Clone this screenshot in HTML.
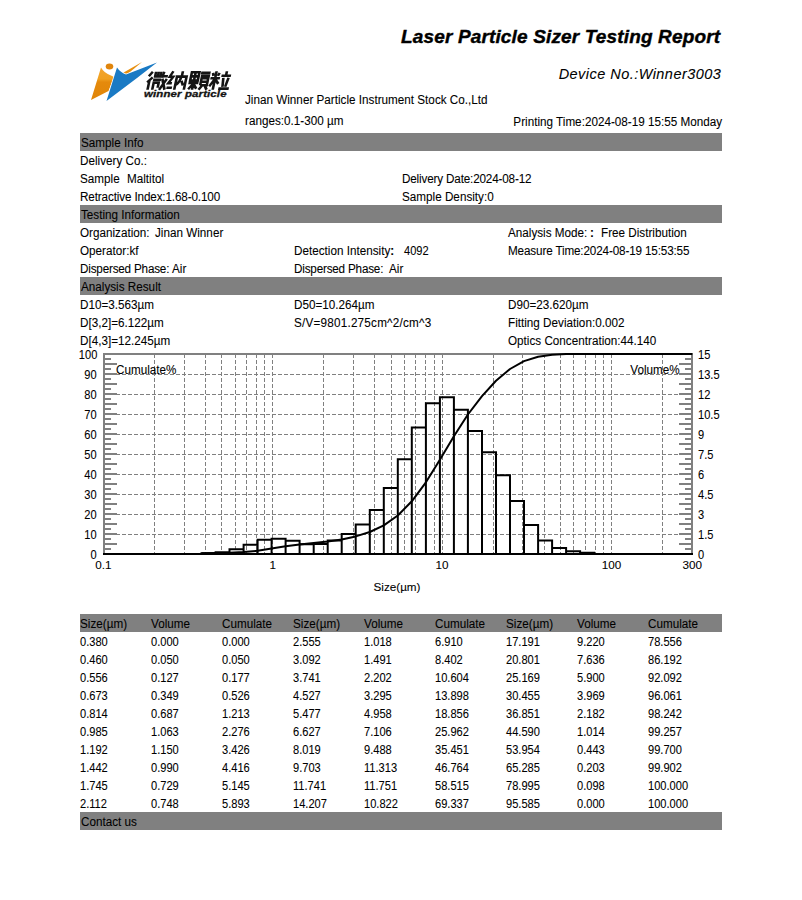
<!DOCTYPE html>
<html><head><meta charset="utf-8"><style>
html,body{margin:0;padding:0;background:#fff;}
body{width:802px;height:900px;position:relative;overflow:hidden;font-family:"Liberation Sans",sans-serif;color:#000;}
.t{position:absolute;white-space:nowrap;line-height:20px;-webkit-text-stroke:0.08px #000;}
.bar{position:absolute;left:80px;width:642px;height:18px;background:#808080;}
.abs{position:absolute;left:0;top:0;}
</style></head><body>
<svg class="abs" width="802" height="900" viewBox="0 0 802 900">
<defs><linearGradient id="og" x1="0" y1="0" x2="0" y2="1"><stop offset="0" stop-color="#f2a530"/><stop offset="0.35" stop-color="#f0a020"/><stop offset="0.45" stop-color="#e58a0c"/><stop offset="1" stop-color="#e08508"/></linearGradient></defs><path d="M91,100 L101,67.5 Q104,73 111,75.5 L114,77 L108.5,91 Z" fill="url(#og)"/>
<ellipse cx="109.5" cy="66.5" rx="3.8" ry="3" fill="#e0850c"/>
<path d="M121,74 L142,62 L127,74.5 Z" fill="#e8900f"/>
<path d="M106.5,101 L117,67.5 Q120,72 126,74.5 L157,62.5 L137,78 Z" fill="#1a7ac4" stroke="#fff" stroke-width="1.4" paint-order="stroke" stroke-linejoin="round"/>
<g fill="none" stroke="#141414" stroke-width="2.6" stroke-linecap="butt">
<g transform="translate(145,89.8) skewX(-12)">
 <path d="M4,-18 L1,-13.5 M5,-12.5 L0.5,-7.5 M2.5,-10 V0"/>
 <path d="M7.3,-18 V-12.5 M10,-18 V-12.5 M12.7,-18 V-12.5 M6.2,-13.3 H13.8 M6,-10 H14 M7.2,0 V-7.2 H12.2 V-2"/>
 <path d="M15.5,-18 L14.5,-12 M14.5,-13.5 H20 M15,-11 L19.5,0 M19.5,-11 L14,0"/>
</g>
<g transform="translate(166,89.8) skewX(-12)">
 <path d="M3.5,-18.5 L1,-13 L4.5,-13 L0.8,-6.5 L4.5,-6.5 M0,-2 H5.5"/>
 <path d="M8.2,0 V-13.2 H17.8 V0 M13,-18.5 V-13 M12.5,-12.5 Q12,-7.5 9,-5 M13.5,-9 L16,-4.5"/>
</g>
<g transform="translate(187,89.8) skewX(-12)">
 <path d="M1.2,-17.5 H8.8 V-9.3 H1.2 Z M5,-17.5 V0 M1.2,-13.4 H8.8 M0,-6.8 H10 M4.5,-5.5 L1,-0.5 M5.5,-5.5 L9,-1"/>
 <path d="M10.5,-17 H20 M12.2,-4.5 V-14.2 H18.8 V-4.5 H12.2 M12.2,-11.5 H18.8 M12.2,-8 H18.8 M14,-4 L11.5,0 M17,-4 L19.5,0"/>
</g>
<g transform="translate(208,89.8) skewX(-12)">
 <path d="M1.5,-17 L2.5,-14 M8,-17 L7,-14 M0,-11.5 H9.5 M4.7,-18.5 V0 M4,-10 L0.5,-3.5 M5.5,-10 L9,-6"/>
 <path d="M15,-18.5 V-14.5 M10.5,-14 H20 M12.8,-12 L13.8,-3 M18,-12 L16.5,-3 M10,-1.2 H20.5"/>
</g>
</g>
</svg>
<svg class="abs" width="802" height="900" viewBox="0 0 802 900"><line x1="104" y1="534.5" x2="691" y2="534.5" stroke="#808080" stroke-width="1" stroke-dasharray="4 2"/><line x1="104" y1="514.5" x2="691" y2="514.5" stroke="#808080" stroke-width="1" stroke-dasharray="4 2"/><line x1="104" y1="494.5" x2="691" y2="494.5" stroke="#808080" stroke-width="1" stroke-dasharray="4 2"/><line x1="104" y1="474.5" x2="691" y2="474.5" stroke="#808080" stroke-width="1" stroke-dasharray="4 2"/><line x1="104" y1="454.5" x2="691" y2="454.5" stroke="#808080" stroke-width="1" stroke-dasharray="4 2"/><line x1="104" y1="434.5" x2="691" y2="434.5" stroke="#808080" stroke-width="1" stroke-dasharray="4 2"/><line x1="104" y1="414.5" x2="691" y2="414.5" stroke="#808080" stroke-width="1" stroke-dasharray="4 2"/><line x1="104" y1="394.5" x2="691" y2="394.5" stroke="#808080" stroke-width="1" stroke-dasharray="4 2"/><line x1="104" y1="374.5" x2="691" y2="374.5" stroke="#808080" stroke-width="1" stroke-dasharray="4 2"/><line x1="154.5" y1="354" x2="154.5" y2="554" stroke="#808080" stroke-width="1" stroke-dasharray="4 2"/><line x1="184.5" y1="354" x2="184.5" y2="554" stroke="#808080" stroke-width="1" stroke-dasharray="4 2"/><line x1="205.5" y1="354" x2="205.5" y2="554" stroke="#808080" stroke-width="1" stroke-dasharray="4 2"/><line x1="221.5" y1="354" x2="221.5" y2="554" stroke="#808080" stroke-width="1" stroke-dasharray="4 2"/><line x1="235.5" y1="354" x2="235.5" y2="554" stroke="#808080" stroke-width="1" stroke-dasharray="4 2"/><line x1="246.5" y1="354" x2="246.5" y2="554" stroke="#808080" stroke-width="1" stroke-dasharray="4 2"/><line x1="256.5" y1="354" x2="256.5" y2="554" stroke="#808080" stroke-width="1" stroke-dasharray="4 2"/><line x1="264.5" y1="354" x2="264.5" y2="554" stroke="#808080" stroke-width="1" stroke-dasharray="4 2"/><line x1="323.5" y1="354" x2="323.5" y2="554" stroke="#808080" stroke-width="1" stroke-dasharray="4 2"/><line x1="353.5" y1="354" x2="353.5" y2="554" stroke="#808080" stroke-width="1" stroke-dasharray="4 2"/><line x1="374.5" y1="354" x2="374.5" y2="554" stroke="#808080" stroke-width="1" stroke-dasharray="4 2"/><line x1="391.5" y1="354" x2="391.5" y2="554" stroke="#808080" stroke-width="1" stroke-dasharray="4 2"/><line x1="404.5" y1="354" x2="404.5" y2="554" stroke="#808080" stroke-width="1" stroke-dasharray="4 2"/><line x1="415.5" y1="354" x2="415.5" y2="554" stroke="#808080" stroke-width="1" stroke-dasharray="4 2"/><line x1="425.5" y1="354" x2="425.5" y2="554" stroke="#808080" stroke-width="1" stroke-dasharray="4 2"/><line x1="434.5" y1="354" x2="434.5" y2="554" stroke="#808080" stroke-width="1" stroke-dasharray="4 2"/><line x1="493.5" y1="354" x2="493.5" y2="554" stroke="#808080" stroke-width="1" stroke-dasharray="4 2"/><line x1="522.5" y1="354" x2="522.5" y2="554" stroke="#808080" stroke-width="1" stroke-dasharray="4 2"/><line x1="544.5" y1="354" x2="544.5" y2="554" stroke="#808080" stroke-width="1" stroke-dasharray="4 2"/><line x1="560.5" y1="354" x2="560.5" y2="554" stroke="#808080" stroke-width="1" stroke-dasharray="4 2"/><line x1="573.5" y1="354" x2="573.5" y2="554" stroke="#808080" stroke-width="1" stroke-dasharray="4 2"/><line x1="585.5" y1="354" x2="585.5" y2="554" stroke="#808080" stroke-width="1" stroke-dasharray="4 2"/><line x1="595.5" y1="354" x2="595.5" y2="554" stroke="#808080" stroke-width="1" stroke-dasharray="4 2"/><line x1="603.5" y1="354" x2="603.5" y2="554" stroke="#808080" stroke-width="1" stroke-dasharray="4 2"/><line x1="662.5" y1="354" x2="662.5" y2="554" stroke="#808080" stroke-width="1" stroke-dasharray="4 2"/><line x1="272.5" y1="354" x2="272.5" y2="554" stroke="#808080" stroke-width="1" stroke-dasharray="4 2"/><line x1="442.5" y1="354" x2="442.5" y2="554" stroke="#808080" stroke-width="1" stroke-dasharray="4 2"/><line x1="611.5" y1="354" x2="611.5" y2="554" stroke="#808080" stroke-width="1" stroke-dasharray="4 2"/><rect x="103" y="353" width="590" height="2" fill="#808080"/><rect x="103" y="353" width="2" height="202" fill="#808080"/><rect x="691" y="353" width="2" height="202" fill="#808080"/><rect x="105" y="548" width="6" height="2" fill="#808080"/><rect x="685" y="548" width="6" height="2" fill="#808080"/><rect x="105" y="543" width="12" height="2" fill="#808080"/><rect x="679" y="543" width="12" height="2" fill="#808080"/><rect x="105" y="538" width="6" height="2" fill="#808080"/><rect x="685" y="538" width="6" height="2" fill="#808080"/><rect x="105" y="533" width="12" height="2" fill="#808080"/><rect x="679" y="533" width="12" height="2" fill="#808080"/><rect x="105" y="528" width="6" height="2" fill="#808080"/><rect x="685" y="528" width="6" height="2" fill="#808080"/><rect x="105" y="523" width="12" height="2" fill="#808080"/><rect x="679" y="523" width="12" height="2" fill="#808080"/><rect x="105" y="518" width="6" height="2" fill="#808080"/><rect x="685" y="518" width="6" height="2" fill="#808080"/><rect x="105" y="513" width="12" height="2" fill="#808080"/><rect x="679" y="513" width="12" height="2" fill="#808080"/><rect x="105" y="508" width="6" height="2" fill="#808080"/><rect x="685" y="508" width="6" height="2" fill="#808080"/><rect x="105" y="503" width="12" height="2" fill="#808080"/><rect x="679" y="503" width="12" height="2" fill="#808080"/><rect x="105" y="498" width="6" height="2" fill="#808080"/><rect x="685" y="498" width="6" height="2" fill="#808080"/><rect x="105" y="493" width="12" height="2" fill="#808080"/><rect x="679" y="493" width="12" height="2" fill="#808080"/><rect x="105" y="488" width="6" height="2" fill="#808080"/><rect x="685" y="488" width="6" height="2" fill="#808080"/><rect x="105" y="483" width="12" height="2" fill="#808080"/><rect x="679" y="483" width="12" height="2" fill="#808080"/><rect x="105" y="478" width="6" height="2" fill="#808080"/><rect x="685" y="478" width="6" height="2" fill="#808080"/><rect x="105" y="473" width="12" height="2" fill="#808080"/><rect x="679" y="473" width="12" height="2" fill="#808080"/><rect x="105" y="468" width="6" height="2" fill="#808080"/><rect x="685" y="468" width="6" height="2" fill="#808080"/><rect x="105" y="463" width="12" height="2" fill="#808080"/><rect x="679" y="463" width="12" height="2" fill="#808080"/><rect x="105" y="458" width="6" height="2" fill="#808080"/><rect x="685" y="458" width="6" height="2" fill="#808080"/><rect x="105" y="453" width="12" height="2" fill="#808080"/><rect x="679" y="453" width="12" height="2" fill="#808080"/><rect x="105" y="448" width="6" height="2" fill="#808080"/><rect x="685" y="448" width="6" height="2" fill="#808080"/><rect x="105" y="443" width="12" height="2" fill="#808080"/><rect x="679" y="443" width="12" height="2" fill="#808080"/><rect x="105" y="438" width="6" height="2" fill="#808080"/><rect x="685" y="438" width="6" height="2" fill="#808080"/><rect x="105" y="433" width="12" height="2" fill="#808080"/><rect x="679" y="433" width="12" height="2" fill="#808080"/><rect x="105" y="428" width="6" height="2" fill="#808080"/><rect x="685" y="428" width="6" height="2" fill="#808080"/><rect x="105" y="423" width="12" height="2" fill="#808080"/><rect x="679" y="423" width="12" height="2" fill="#808080"/><rect x="105" y="418" width="6" height="2" fill="#808080"/><rect x="685" y="418" width="6" height="2" fill="#808080"/><rect x="105" y="413" width="12" height="2" fill="#808080"/><rect x="679" y="413" width="12" height="2" fill="#808080"/><rect x="105" y="408" width="6" height="2" fill="#808080"/><rect x="685" y="408" width="6" height="2" fill="#808080"/><rect x="105" y="403" width="12" height="2" fill="#808080"/><rect x="679" y="403" width="12" height="2" fill="#808080"/><rect x="105" y="398" width="6" height="2" fill="#808080"/><rect x="685" y="398" width="6" height="2" fill="#808080"/><rect x="105" y="393" width="12" height="2" fill="#808080"/><rect x="679" y="393" width="12" height="2" fill="#808080"/><rect x="105" y="388" width="6" height="2" fill="#808080"/><rect x="685" y="388" width="6" height="2" fill="#808080"/><rect x="105" y="383" width="12" height="2" fill="#808080"/><rect x="679" y="383" width="12" height="2" fill="#808080"/><rect x="105" y="378" width="6" height="2" fill="#808080"/><rect x="685" y="378" width="6" height="2" fill="#808080"/><rect x="105" y="373" width="12" height="2" fill="#808080"/><rect x="679" y="373" width="12" height="2" fill="#808080"/><rect x="105" y="368" width="6" height="2" fill="#808080"/><rect x="685" y="368" width="6" height="2" fill="#808080"/><rect x="105" y="363" width="12" height="2" fill="#808080"/><rect x="679" y="363" width="12" height="2" fill="#808080"/><rect x="105" y="358" width="6" height="2" fill="#808080"/><rect x="685" y="358" width="6" height="2" fill="#808080"/><path d="M201.5 554V553.3H215.6V554 M215.6 554V552.3H229.5V554 M229.5 554V549.3H243.6V554 M243.6 554V544.8H257.6V554 M257.6 554V539.8H271.6V554 M271.6 554V538.7H285.6V554 M285.6 554V540.8H299.6V554 M299.6 554V544.3H313.7V554 M313.7 554V544.0H327.7V554 M327.7 554V540.4H341.7V554 M341.7 554V534.1H355.7V554 M355.7 554V524.6H369.8V554 M369.8 554V510.1H383.8V554 M383.8 554V487.9H397.8V554 M397.8 554V459.3H411.8V554 M411.8 554V427.5H425.9V554 M425.9 554V403.2H439.9V554 M439.9 554V397.3H453.9V554 M453.9 554V409.7H467.9V554 M467.9 554V431.1H482.0V554 M482.0 554V452.2H496.0V554 M496.0 554V475.3H510.0V554 M510.0 554V501.1H524.0V554 M524.0 554V524.9H538.1V554 M538.1 554V540.5H552.1V554 M552.1 554V548.1H566.1V554 M566.1 554V551.3H580.1V554 M580.1 554V552.7H594.2V554" fill="none" stroke="#000" stroke-width="2"/><polyline points="201.5,553.2 215.6,553.1 229.5,552.8 243.6,552.1 257.6,550.8 271.6,548.6 285.6,546.3 299.6,544.4 313.7,542.9 327.7,541.4 341.7,539.4 355.7,536.4 369.8,532.0 383.8,525.4 397.8,515.5 411.8,501.3 425.9,482.3 439.9,459.7 453.9,436.2 467.9,414.5 482.0,396.1 496.0,380.8 510.0,369.0 524.0,361.1 538.1,356.7 552.1,354.7 566.1,354.0 580.1,354.0 594.2,354.0 608.2,354.0 692.3,354.0" fill="none" stroke="#000" stroke-width="2" stroke-linejoin="round"/><rect x="103" y="553" width="590" height="2" fill="#000"/></svg>
<div class="t" style="left:401px;top:26.92px;font-size:19px;font-weight:bold;font-style:italic;letter-spacing:0.15px;-webkit-text-stroke:0.4px #000">Laser Particle Sizer Testing Report</div><div class="t" style="right:80.70000000000005px;top:63.68px;font-size:14.5px;text-align:right;font-style:italic;letter-spacing:0.46px">Device No.:Winner3003</div><div class="t" style="left:245px;top:89.54px;font-size:12.0px;;transform:scaleX(0.975);transform-origin:left center">Jinan Winner Particle Instrument Stock Co.,Ltd</div><div class="t" style="left:245px;top:111.44px;font-size:12.0px;;transform:scaleX(0.975);transform-origin:left center">ranges:0.1-300 &micro;m</div><div class="t" style="right:80px;top:111.64px;font-size:12.0px;text-align:right;;transform:scaleX(0.975);transform-origin:right center">Printing Time:2024-08-19 15:55 Monday</div><div class="bar" style="top:133px"></div><div class="t" style="left:80.5px;top:132.84px;font-size:12.0px;;transform:scaleX(0.975);transform-origin:left center">Sample Info</div><div class="bar" style="top:205px"></div><div class="t" style="left:80.5px;top:204.84px;font-size:12.0px;;transform:scaleX(0.975);transform-origin:left center">Testing Information</div><div class="bar" style="top:277px"></div><div class="t" style="left:80.5px;top:276.84px;font-size:12.0px;;transform:scaleX(0.975);transform-origin:left center">Analysis Result</div><div class="bar" style="top:812px"></div><div class="t" style="left:80.5px;top:811.84px;font-size:12.0px;;transform:scaleX(0.975);transform-origin:left center">Contact us</div><div class="bar" style="top:614px"></div><div class="t" style="left:80px;top:150.84px;font-size:12.0px;;transform:scaleX(0.975);transform-origin:left center">Delivery Co.:</div><div class="t" style="left:80px;top:168.84px;font-size:12.0px;;transform:scaleX(0.975);transform-origin:left center">Sample</div><div class="t" style="left:127.3px;top:168.84px;font-size:12.0px;;transform:scaleX(0.975);transform-origin:left center">Maltitol</div><div class="t" style="left:401.5px;top:168.84px;font-size:12.0px;;transform:scaleX(0.975);transform-origin:left center;letter-spacing:-0.17px">Delivery Date:2024-08-12</div><div class="t" style="left:80px;top:186.84px;font-size:12.0px;;transform:scaleX(0.975);transform-origin:left center;letter-spacing:-0.14px">Retractive Index:1.68-0.100</div><div class="t" style="left:401.5px;top:186.84px;font-size:12.0px;;transform:scaleX(0.975);transform-origin:left center">Sample Density:0</div><div class="t" style="left:80px;top:222.84px;font-size:12.0px;;transform:scaleX(0.975);transform-origin:left center">Organization:</div><div class="t" style="left:155.2px;top:222.84px;font-size:12.0px;;transform:scaleX(0.975);transform-origin:left center">Jinan Winner</div><div class="t" style="left:508px;top:222.84px;font-size:12.0px;;transform:scaleX(0.975);transform-origin:left center">Analysis Mode:</div><div class="t" style="left:589.8px;top:222.84px;font-size:12.0px;;transform:scaleX(0.975);transform-origin:left center"><b>:</b></div><div class="t" style="left:600.5px;top:222.84px;font-size:12.0px;;transform:scaleX(0.975);transform-origin:left center">Free Distribution</div><div class="t" style="left:80px;top:240.84px;font-size:12.0px;;transform:scaleX(0.975);transform-origin:left center">Operator:kf</div><div class="t" style="left:294px;top:240.84px;font-size:12.0px;;transform:scaleX(0.975);transform-origin:left center">Detection Intensity<b>:</b></div><div class="t" style="left:404.2px;top:240.77px;font-size:12.2px;;transform:scaleX(0.91);transform-origin:left center">4092</div><div class="t" style="left:508px;top:240.84px;font-size:12.0px;;transform:scaleX(0.975);transform-origin:left center;letter-spacing:-0.15px">Measure Time:2024-08-19 15:53:55</div><div class="t" style="left:80px;top:258.84px;font-size:12.0px;;transform:scaleX(0.975);transform-origin:left center;letter-spacing:-0.2px">Dispersed Phase:</div><div class="t" style="left:172.2px;top:258.84px;font-size:12.0px;;transform:scaleX(0.975);transform-origin:left center">Air</div><div class="t" style="left:294px;top:258.84px;font-size:12.0px;;transform:scaleX(0.975);transform-origin:left center;letter-spacing:-0.2px">Dispersed Phase:</div><div class="t" style="left:388.6px;top:258.84px;font-size:12.0px;;transform:scaleX(0.975);transform-origin:left center">Air</div><div class="t" style="left:80px;top:294.84px;font-size:12.0px;;transform:scaleX(0.975);transform-origin:left center">D10=3.563&micro;m</div><div class="t" style="left:294px;top:294.84px;font-size:12.0px;;transform:scaleX(0.975);transform-origin:left center">D50=10.264&micro;m</div><div class="t" style="left:508px;top:294.84px;font-size:12.0px;;transform:scaleX(0.975);transform-origin:left center">D90=23.620&micro;m</div><div class="t" style="left:80px;top:312.84px;font-size:12.0px;;transform:scaleX(0.975);transform-origin:left center">D[3,2]=6.122&micro;m</div><div class="t" style="left:294px;top:312.84px;font-size:12.0px;;transform:scaleX(0.975);transform-origin:left center;letter-spacing:0.22px">S/V=9801.275cm^2/cm^3</div><div class="t" style="left:508px;top:312.84px;font-size:12.0px;;transform:scaleX(0.975);transform-origin:left center">Fitting Deviation:0.002</div><div class="t" style="left:80px;top:330.84px;font-size:12.0px;;transform:scaleX(0.975);transform-origin:left center">D[4,3]=12.245&micro;m</div><div class="t" style="left:508px;top:330.84px;font-size:12.0px;;transform:scaleX(0.975);transform-origin:left center">Optics Concentration:44.140</div><div class="t" style="left:80px;top:613.84px;font-size:12.0px;;transform:scaleX(0.975);transform-origin:left center">Size(&micro;m)</div><div class="t" style="left:151px;top:613.84px;font-size:12.0px;;transform:scaleX(0.975);transform-origin:left center">Volume</div><div class="t" style="left:222px;top:613.84px;font-size:12.0px;;transform:scaleX(0.975);transform-origin:left center">Cumulate</div><div class="t" style="left:293px;top:613.84px;font-size:12.0px;;transform:scaleX(0.975);transform-origin:left center">Size(&micro;m)</div><div class="t" style="left:364px;top:613.84px;font-size:12.0px;;transform:scaleX(0.975);transform-origin:left center">Volume</div><div class="t" style="left:435px;top:613.84px;font-size:12.0px;;transform:scaleX(0.975);transform-origin:left center">Cumulate</div><div class="t" style="left:506px;top:613.84px;font-size:12.0px;;transform:scaleX(0.975);transform-origin:left center">Size(&micro;m)</div><div class="t" style="left:577px;top:613.84px;font-size:12.0px;;transform:scaleX(0.975);transform-origin:left center">Volume</div><div class="t" style="left:648px;top:613.84px;font-size:12.0px;;transform:scaleX(0.975);transform-origin:left center">Cumulate</div><div class="t" style="left:80px;top:631.77px;font-size:12.2px;;transform:scaleX(0.91);transform-origin:left center">0.380</div><div class="t" style="left:151px;top:631.77px;font-size:12.2px;;transform:scaleX(0.91);transform-origin:left center">0.000</div><div class="t" style="left:222px;top:631.77px;font-size:12.2px;;transform:scaleX(0.91);transform-origin:left center">0.000</div><div class="t" style="left:293px;top:631.77px;font-size:12.2px;;transform:scaleX(0.91);transform-origin:left center">2.555</div><div class="t" style="left:364px;top:631.77px;font-size:12.2px;;transform:scaleX(0.91);transform-origin:left center">1.018</div><div class="t" style="left:435px;top:631.77px;font-size:12.2px;;transform:scaleX(0.91);transform-origin:left center">6.910</div><div class="t" style="left:506px;top:631.77px;font-size:12.2px;;transform:scaleX(0.91);transform-origin:left center">17.191</div><div class="t" style="left:577px;top:631.77px;font-size:12.2px;;transform:scaleX(0.91);transform-origin:left center">9.220</div><div class="t" style="left:648px;top:631.77px;font-size:12.2px;;transform:scaleX(0.91);transform-origin:left center">78.556</div><div class="t" style="left:80px;top:649.77px;font-size:12.2px;;transform:scaleX(0.91);transform-origin:left center">0.460</div><div class="t" style="left:151px;top:649.77px;font-size:12.2px;;transform:scaleX(0.91);transform-origin:left center">0.050</div><div class="t" style="left:222px;top:649.77px;font-size:12.2px;;transform:scaleX(0.91);transform-origin:left center">0.050</div><div class="t" style="left:293px;top:649.77px;font-size:12.2px;;transform:scaleX(0.91);transform-origin:left center">3.092</div><div class="t" style="left:364px;top:649.77px;font-size:12.2px;;transform:scaleX(0.91);transform-origin:left center">1.491</div><div class="t" style="left:435px;top:649.77px;font-size:12.2px;;transform:scaleX(0.91);transform-origin:left center">8.402</div><div class="t" style="left:506px;top:649.77px;font-size:12.2px;;transform:scaleX(0.91);transform-origin:left center">20.801</div><div class="t" style="left:577px;top:649.77px;font-size:12.2px;;transform:scaleX(0.91);transform-origin:left center">7.636</div><div class="t" style="left:648px;top:649.77px;font-size:12.2px;;transform:scaleX(0.91);transform-origin:left center">86.192</div><div class="t" style="left:80px;top:667.77px;font-size:12.2px;;transform:scaleX(0.91);transform-origin:left center">0.556</div><div class="t" style="left:151px;top:667.77px;font-size:12.2px;;transform:scaleX(0.91);transform-origin:left center">0.127</div><div class="t" style="left:222px;top:667.77px;font-size:12.2px;;transform:scaleX(0.91);transform-origin:left center">0.177</div><div class="t" style="left:293px;top:667.77px;font-size:12.2px;;transform:scaleX(0.91);transform-origin:left center">3.741</div><div class="t" style="left:364px;top:667.77px;font-size:12.2px;;transform:scaleX(0.91);transform-origin:left center">2.202</div><div class="t" style="left:435px;top:667.77px;font-size:12.2px;;transform:scaleX(0.91);transform-origin:left center">10.604</div><div class="t" style="left:506px;top:667.77px;font-size:12.2px;;transform:scaleX(0.91);transform-origin:left center">25.169</div><div class="t" style="left:577px;top:667.77px;font-size:12.2px;;transform:scaleX(0.91);transform-origin:left center">5.900</div><div class="t" style="left:648px;top:667.77px;font-size:12.2px;;transform:scaleX(0.91);transform-origin:left center">92.092</div><div class="t" style="left:80px;top:685.77px;font-size:12.2px;;transform:scaleX(0.91);transform-origin:left center">0.673</div><div class="t" style="left:151px;top:685.77px;font-size:12.2px;;transform:scaleX(0.91);transform-origin:left center">0.349</div><div class="t" style="left:222px;top:685.77px;font-size:12.2px;;transform:scaleX(0.91);transform-origin:left center">0.526</div><div class="t" style="left:293px;top:685.77px;font-size:12.2px;;transform:scaleX(0.91);transform-origin:left center">4.527</div><div class="t" style="left:364px;top:685.77px;font-size:12.2px;;transform:scaleX(0.91);transform-origin:left center">3.295</div><div class="t" style="left:435px;top:685.77px;font-size:12.2px;;transform:scaleX(0.91);transform-origin:left center">13.898</div><div class="t" style="left:506px;top:685.77px;font-size:12.2px;;transform:scaleX(0.91);transform-origin:left center">30.455</div><div class="t" style="left:577px;top:685.77px;font-size:12.2px;;transform:scaleX(0.91);transform-origin:left center">3.969</div><div class="t" style="left:648px;top:685.77px;font-size:12.2px;;transform:scaleX(0.91);transform-origin:left center">96.061</div><div class="t" style="left:80px;top:703.77px;font-size:12.2px;;transform:scaleX(0.91);transform-origin:left center">0.814</div><div class="t" style="left:151px;top:703.77px;font-size:12.2px;;transform:scaleX(0.91);transform-origin:left center">0.687</div><div class="t" style="left:222px;top:703.77px;font-size:12.2px;;transform:scaleX(0.91);transform-origin:left center">1.213</div><div class="t" style="left:293px;top:703.77px;font-size:12.2px;;transform:scaleX(0.91);transform-origin:left center">5.477</div><div class="t" style="left:364px;top:703.77px;font-size:12.2px;;transform:scaleX(0.91);transform-origin:left center">4.958</div><div class="t" style="left:435px;top:703.77px;font-size:12.2px;;transform:scaleX(0.91);transform-origin:left center">18.856</div><div class="t" style="left:506px;top:703.77px;font-size:12.2px;;transform:scaleX(0.91);transform-origin:left center">36.851</div><div class="t" style="left:577px;top:703.77px;font-size:12.2px;;transform:scaleX(0.91);transform-origin:left center">2.182</div><div class="t" style="left:648px;top:703.77px;font-size:12.2px;;transform:scaleX(0.91);transform-origin:left center">98.242</div><div class="t" style="left:80px;top:721.77px;font-size:12.2px;;transform:scaleX(0.91);transform-origin:left center">0.985</div><div class="t" style="left:151px;top:721.77px;font-size:12.2px;;transform:scaleX(0.91);transform-origin:left center">1.063</div><div class="t" style="left:222px;top:721.77px;font-size:12.2px;;transform:scaleX(0.91);transform-origin:left center">2.276</div><div class="t" style="left:293px;top:721.77px;font-size:12.2px;;transform:scaleX(0.91);transform-origin:left center">6.627</div><div class="t" style="left:364px;top:721.77px;font-size:12.2px;;transform:scaleX(0.91);transform-origin:left center">7.106</div><div class="t" style="left:435px;top:721.77px;font-size:12.2px;;transform:scaleX(0.91);transform-origin:left center">25.962</div><div class="t" style="left:506px;top:721.77px;font-size:12.2px;;transform:scaleX(0.91);transform-origin:left center">44.590</div><div class="t" style="left:577px;top:721.77px;font-size:12.2px;;transform:scaleX(0.91);transform-origin:left center">1.014</div><div class="t" style="left:648px;top:721.77px;font-size:12.2px;;transform:scaleX(0.91);transform-origin:left center">99.257</div><div class="t" style="left:80px;top:739.77px;font-size:12.2px;;transform:scaleX(0.91);transform-origin:left center">1.192</div><div class="t" style="left:151px;top:739.77px;font-size:12.2px;;transform:scaleX(0.91);transform-origin:left center">1.150</div><div class="t" style="left:222px;top:739.77px;font-size:12.2px;;transform:scaleX(0.91);transform-origin:left center">3.426</div><div class="t" style="left:293px;top:739.77px;font-size:12.2px;;transform:scaleX(0.91);transform-origin:left center">8.019</div><div class="t" style="left:364px;top:739.77px;font-size:12.2px;;transform:scaleX(0.91);transform-origin:left center">9.488</div><div class="t" style="left:435px;top:739.77px;font-size:12.2px;;transform:scaleX(0.91);transform-origin:left center">35.451</div><div class="t" style="left:506px;top:739.77px;font-size:12.2px;;transform:scaleX(0.91);transform-origin:left center">53.954</div><div class="t" style="left:577px;top:739.77px;font-size:12.2px;;transform:scaleX(0.91);transform-origin:left center">0.443</div><div class="t" style="left:648px;top:739.77px;font-size:12.2px;;transform:scaleX(0.91);transform-origin:left center">99.700</div><div class="t" style="left:80px;top:757.77px;font-size:12.2px;;transform:scaleX(0.91);transform-origin:left center">1.442</div><div class="t" style="left:151px;top:757.77px;font-size:12.2px;;transform:scaleX(0.91);transform-origin:left center">0.990</div><div class="t" style="left:222px;top:757.77px;font-size:12.2px;;transform:scaleX(0.91);transform-origin:left center">4.416</div><div class="t" style="left:293px;top:757.77px;font-size:12.2px;;transform:scaleX(0.91);transform-origin:left center">9.703</div><div class="t" style="left:364px;top:757.77px;font-size:12.2px;;transform:scaleX(0.91);transform-origin:left center">11.313</div><div class="t" style="left:435px;top:757.77px;font-size:12.2px;;transform:scaleX(0.91);transform-origin:left center">46.764</div><div class="t" style="left:506px;top:757.77px;font-size:12.2px;;transform:scaleX(0.91);transform-origin:left center">65.285</div><div class="t" style="left:577px;top:757.77px;font-size:12.2px;;transform:scaleX(0.91);transform-origin:left center">0.203</div><div class="t" style="left:648px;top:757.77px;font-size:12.2px;;transform:scaleX(0.91);transform-origin:left center">99.902</div><div class="t" style="left:80px;top:775.77px;font-size:12.2px;;transform:scaleX(0.91);transform-origin:left center">1.745</div><div class="t" style="left:151px;top:775.77px;font-size:12.2px;;transform:scaleX(0.91);transform-origin:left center">0.729</div><div class="t" style="left:222px;top:775.77px;font-size:12.2px;;transform:scaleX(0.91);transform-origin:left center">5.145</div><div class="t" style="left:293px;top:775.77px;font-size:12.2px;;transform:scaleX(0.91);transform-origin:left center">11.741</div><div class="t" style="left:364px;top:775.77px;font-size:12.2px;;transform:scaleX(0.91);transform-origin:left center">11.751</div><div class="t" style="left:435px;top:775.77px;font-size:12.2px;;transform:scaleX(0.91);transform-origin:left center">58.515</div><div class="t" style="left:506px;top:775.77px;font-size:12.2px;;transform:scaleX(0.91);transform-origin:left center">78.995</div><div class="t" style="left:577px;top:775.77px;font-size:12.2px;;transform:scaleX(0.91);transform-origin:left center">0.098</div><div class="t" style="left:648px;top:775.77px;font-size:12.2px;;transform:scaleX(0.91);transform-origin:left center">100.000</div><div class="t" style="left:80px;top:793.77px;font-size:12.2px;;transform:scaleX(0.91);transform-origin:left center">2.112</div><div class="t" style="left:151px;top:793.77px;font-size:12.2px;;transform:scaleX(0.91);transform-origin:left center">0.748</div><div class="t" style="left:222px;top:793.77px;font-size:12.2px;;transform:scaleX(0.91);transform-origin:left center">5.893</div><div class="t" style="left:293px;top:793.77px;font-size:12.2px;;transform:scaleX(0.91);transform-origin:left center">14.207</div><div class="t" style="left:364px;top:793.77px;font-size:12.2px;;transform:scaleX(0.91);transform-origin:left center">10.822</div><div class="t" style="left:435px;top:793.77px;font-size:12.2px;;transform:scaleX(0.91);transform-origin:left center">69.337</div><div class="t" style="left:506px;top:793.77px;font-size:12.2px;;transform:scaleX(0.91);transform-origin:left center">95.585</div><div class="t" style="left:577px;top:793.77px;font-size:12.2px;;transform:scaleX(0.91);transform-origin:left center">0.000</div><div class="t" style="left:648px;top:793.77px;font-size:12.2px;;transform:scaleX(0.91);transform-origin:left center">100.000</div><div class="t" style="right:705px;top:545.07px;font-size:12.2px;text-align:right;;transform:scaleX(0.91);transform-origin:right center">0</div><div class="t" style="left:698px;top:545.07px;font-size:12.2px;;transform:scaleX(0.91);transform-origin:left center">0</div><div class="t" style="right:705px;top:525.07px;font-size:12.2px;text-align:right;;transform:scaleX(0.91);transform-origin:right center">10</div><div class="t" style="left:698px;top:525.07px;font-size:12.2px;;transform:scaleX(0.91);transform-origin:left center">1.5</div><div class="t" style="right:705px;top:505.07px;font-size:12.2px;text-align:right;;transform:scaleX(0.91);transform-origin:right center">20</div><div class="t" style="left:698px;top:505.07px;font-size:12.2px;;transform:scaleX(0.91);transform-origin:left center">3</div><div class="t" style="right:705px;top:485.07px;font-size:12.2px;text-align:right;;transform:scaleX(0.91);transform-origin:right center">30</div><div class="t" style="left:698px;top:485.07px;font-size:12.2px;;transform:scaleX(0.91);transform-origin:left center">4.5</div><div class="t" style="right:705px;top:465.07px;font-size:12.2px;text-align:right;;transform:scaleX(0.91);transform-origin:right center">40</div><div class="t" style="left:698px;top:465.07px;font-size:12.2px;;transform:scaleX(0.91);transform-origin:left center">6</div><div class="t" style="right:705px;top:445.07px;font-size:12.2px;text-align:right;;transform:scaleX(0.91);transform-origin:right center">50</div><div class="t" style="left:698px;top:445.07px;font-size:12.2px;;transform:scaleX(0.91);transform-origin:left center">7.5</div><div class="t" style="right:705px;top:425.07px;font-size:12.2px;text-align:right;;transform:scaleX(0.91);transform-origin:right center">60</div><div class="t" style="left:698px;top:425.07px;font-size:12.2px;;transform:scaleX(0.91);transform-origin:left center">9</div><div class="t" style="right:705px;top:405.07px;font-size:12.2px;text-align:right;;transform:scaleX(0.91);transform-origin:right center">70</div><div class="t" style="left:698px;top:405.07px;font-size:12.2px;;transform:scaleX(0.91);transform-origin:left center">10.5</div><div class="t" style="right:705px;top:385.07px;font-size:12.2px;text-align:right;;transform:scaleX(0.91);transform-origin:right center">80</div><div class="t" style="left:698px;top:385.07px;font-size:12.2px;;transform:scaleX(0.91);transform-origin:left center">12</div><div class="t" style="right:705px;top:365.07px;font-size:12.2px;text-align:right;;transform:scaleX(0.91);transform-origin:right center">90</div><div class="t" style="left:698px;top:365.07px;font-size:12.2px;;transform:scaleX(0.91);transform-origin:left center">13.5</div><div class="t" style="right:705px;top:345.07px;font-size:12.2px;text-align:right;;transform:scaleX(0.91);transform-origin:right center">100</div><div class="t" style="left:698px;top:345.07px;font-size:12.2px;;transform:scaleX(0.91);transform-origin:left center">15</div><div class="t" style="left:73.3px;width:60px;text-align:center;top:554.8px;font-size:11.7px">0.1</div><div class="t" style="left:242.7px;width:60px;text-align:center;top:554.8px;font-size:11.7px">1</div><div class="t" style="left:412.1px;width:60px;text-align:center;top:554.8px;font-size:11.7px">10</div><div class="t" style="left:581.5px;width:60px;text-align:center;top:554.8px;font-size:11.7px">100</div><div class="t" style="left:662.3px;width:60px;text-align:center;top:554.8px;font-size:11.7px">300</div><div class="t" style="left:144px;top:84.15px;font-size:8.8px;font-weight:bold;font-style:italic;letter-spacing:0.1px;color:#141414;-webkit-text-stroke:0.3px #141414;transform:scaleX(1.3);transform-origin:left center">winner particle</div><div class="t" style="left:116.3px;top:359.84px;font-size:12.0px;;transform:scaleX(0.975);transform-origin:left center">Cumulate%</div><div class="t" style="right:122px;top:359.84px;font-size:12.0px;text-align:right;;transform:scaleX(0.975);transform-origin:right center">Volume%</div><div class="t" style="left:357px;width:80px;text-align:center;top:576.8px;font-size:11.7px">Size(&micro;m)</div>
</body></html>
